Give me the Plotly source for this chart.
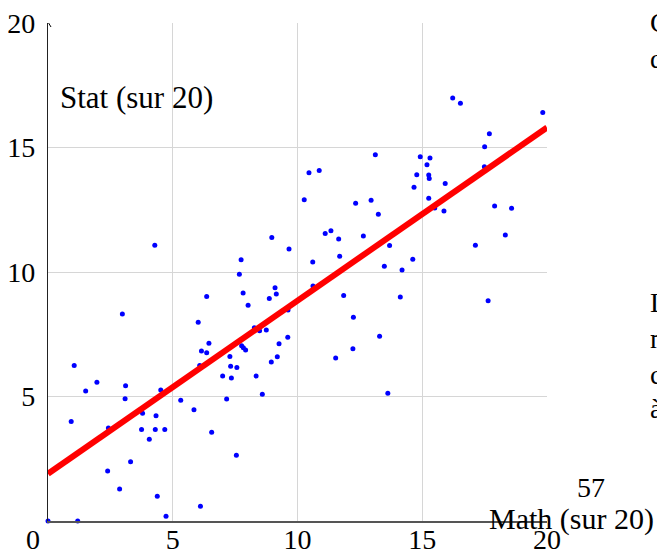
import plotly.graph_objects as go

# ---- data ----
math_scores = [0.00, 1.19, 0.93, 1.05, 1.51, 1.96, 2.39, 2.42, 2.87, 2.98,
               3.09, 3.11, 3.31, 3.75, 3.79, 4.06, 4.28, 4.30, 4.33, 4.38,
               4.52, 4.68, 4.73, 5.32, 5.85, 6.02, 6.08, 6.11, 6.15, 6.36,
               6.36, 6.45, 6.56, 7.00, 7.16, 7.29, 7.32, 7.35, 7.55, 7.57,
               7.67, 7.74, 7.76, 7.82, 7.83, 7.92, 8.02, 8.27, 8.34, 8.48,
               8.59, 8.75, 8.87, 8.95, 8.97, 9.10, 9.15, 9.19, 9.26, 9.61,
               9.62, 9.66, 10.27, 10.46, 10.61, 10.62, 10.87, 11.11, 11.34, 11.65,
               11.69, 11.85, 11.53, 12.22, 12.24, 12.33, 12.64, 12.95, 13.12, 13.24,
               13.29, 13.48, 13.62, 13.69, 14.12, 14.19, 14.62, 14.67, 14.78, 14.92,
               15.19, 15.26, 15.28, 15.26, 15.31, 15.50, 15.87, 15.92, 16.22, 16.53,
               17.13, 17.49, 17.50, 17.64, 17.69, 17.90, 18.33, 18.58, 19.83]
stat_scores = [0.00, 0.00, 4.00, 6.25, 5.22, 5.57, 2.01, 3.73, 1.29, 8.31,
               4.91, 5.43, 2.38, 3.67, 4.33, 3.28, 11.07, 3.67, 4.23, 0.99,
               5.26, 3.67, 0.19, 4.85, 4.47, 7.98, 6.25, 0.59, 6.83, 6.76,
               9.02, 7.14, 3.56, 5.82, 4.90, 6.61, 6.21, 5.74, 2.64, 6.16,
               9.91, 10.49, 7.04, 9.16, 6.96, 6.87, 8.66, 7.76, 5.82, 7.64,
               5.09, 7.67, 8.94, 6.39, 11.39, 9.37, 9.12, 6.60, 7.12, 7.38,
               8.47, 10.92, 12.90, 13.99, 10.40, 9.44, 14.08, 11.55, 11.66, 11.33,
               10.63, 9.06, 6.55, 6.92, 8.18, 12.76, 11.45, 12.88, 14.71, 12.32,
               7.42, 10.23, 5.13, 11.06, 9.00, 10.08, 10.51, 13.40, 13.91, 14.63,
               14.31, 13.90, 13.76, 12.96, 14.58, 12.57, 12.45, 13.55, 16.99, 16.78,
               11.07, 14.23, 15.03, 8.85, 15.55, 12.65, 11.49, 12.56, 16.41]

fit_x = [0, 20]
fit_y = [1.9, 15.8]

x_ticks = [5, 10, 15, 20]
y_ticks = [5, 10, 15, 20]

x_title = "Math (sur 20)"
y_title = "Stat (sur 20)"
page_number = "57"
side_fragments = ["Ce", "de", "La", "ma", "ce", "à"]

# ---- layout helpers (pixel -> paper) ----
L, R, T, B = 48, 547, 23, 521


def px_x(px):
    return (px - L) / (R - L)


def px_y(py):
    return (B - py) / (B - T)


FONT = "Liberation Serif, DejaVu Serif, serif"

fig = go.Figure()
fig.add_trace(go.Scatter(
    x=math_scores, y=stat_scores, mode="markers",
    marker=dict(color="#0000ff", size=5, line=dict(width=0)),
    cliponaxis=False, showlegend=False, hoverinfo="x+y"))
fig.add_trace(go.Scatter(
    x=fit_x, y=fit_y, mode="lines",
    line=dict(color="#ff0000", width=6),
    showlegend=False, hoverinfo="skip"))

annotations = [
    dict(text=y_title, x=px_x(58), y=px_y(97.5), xref="paper", yref="paper",
         xanchor="left", yanchor="middle", showarrow=False,
         font=dict(family=FONT, size=31, color="black")),
    dict(text=x_title, x=px_x(571), y=px_y(518.5), xref="paper", yref="paper",
         xanchor="center", yanchor="middle", showarrow=False,
         font=dict(family=FONT, size=30, color="black")),
    dict(text=page_number, x=px_x(591), y=px_y(487.5), xref="paper", yref="paper",
         xanchor="center", yanchor="middle", showarrow=False,
         font=dict(family=FONT, size=28, color="black")),
    dict(text="0", x=px_x(33), y=px_y(539), xref="paper", yref="paper",
         xanchor="center", yanchor="middle", showarrow=False,
         font=dict(family=FONT, size=28, color="black")),
]
frag_centers = [22.5, 58.5, 302.5, 338.5, 374.5, 408.5]
for txt, cy in zip(side_fragments, frag_centers):
    annotations.append(dict(text=txt, x=px_x(648), y=px_y(cy), xref="paper", yref="paper",
                            xanchor="left", yanchor="middle", showarrow=False,
                            font=dict(family=FONT, size=28, color="black")))

shapes = [
    dict(type="line", xref="x", yref="y", xsizemode="pixel", ysizemode="pixel",
         xanchor=0, yanchor=20, x0=-3, y0=-4, x1=0, y1=1,
         line=dict(color="black", width=1)),
    dict(type="line", xref="x", yref="y", xsizemode="pixel", ysizemode="pixel",
         xanchor=0, yanchor=20, x0=3, y0=-4, x1=0, y1=1,
         line=dict(color="black", width=1)),
]

fig.update_layout(
    width=657, height=551,
    margin=dict(l=L, r=657 - R, t=T, b=551 - B, pad=0, autoexpand=False),
    paper_bgcolor="white", plot_bgcolor="white",
    annotations=annotations, shapes=shapes,
    xaxis=dict(range=[0, 20], tickvals=x_ticks, ticktext=[str(v) for v in x_ticks],
               showgrid=True, gridcolor="#d6d6d6", gridwidth=1, automargin=False,
               zeroline=False, showline=True, linecolor="#555555", linewidth=2,
               ticks="", tickfont=dict(family=FONT, size=28, color="black"),
               ticklabelstandoff=-8, fixedrange=True),
    yaxis=dict(range=[0, 20], tickvals=y_ticks, ticktext=[str(v) for v in y_ticks],
               showgrid=True, gridcolor="#d6d6d6", gridwidth=1, automargin=False,
               zeroline=False, showline=True, linecolor="#222222", linewidth=1.3,
               ticks="", tickfont=dict(family=FONT, size=28, color="black"),
               ticklabelstandoff=6, fixedrange=True),
)

fig.write_html("out.html")
